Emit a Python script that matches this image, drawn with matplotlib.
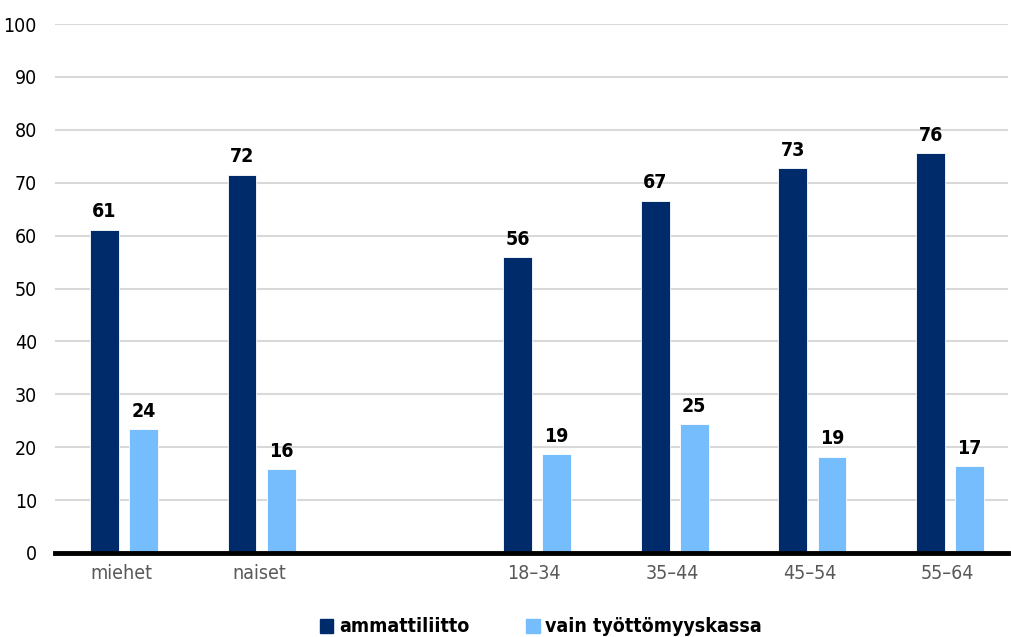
import numpy as np
import matplotlib.pyplot as plt
from matplotlib.patches import Patch
from matplotlib import font_manager as fm

# data
categories = ["miehet", "naiset", "", "18\u201334", "35\u201344", "45\u201354", "55\u201364"]
ammattiliitto = [61.1, 71.5, np.nan, 55.9, 66.6, 72.8, 75.6]
tk_kassa = [23.4, 15.9, np.nan, 18.7, 24.3, 18.2, 16.4]
ammattiliitto_lbl = ["61", "72", "", "56", "67", "73", "76"]
tk_kassa_lbl = ["24", "16", "", "19", "25", "19", "17"]
series_names = ["ammattiliitto", "vain ty\u00f6tt\u00f6myyskassa"]
yticks = list(range(0, 101, 10))

dark = "#002b6b"
light = "#75bdfd"

# look for some narrow font, the reference uses a condensed face
fam, stretch = "Roboto", "normal"
for f in fm.fontManager.ttflist:
    nm = f.name
    if ("Narrow" in nm or "Condensed" in nm or str(f.stretch) in ("condensed", "semi-condensed")) \
            and "Mono" not in nm and "Serif" not in nm:
        fam, stretch = nm, str(f.stretch)
        break
plt.rcParams["font.family"] = [fam, "DejaVu Sans"]
plt.rcParams["font.stretch"] = stretch
fs = 14 if fam != "Roboto" else 13

fig = plt.figure(figsize=(10.11, 6.37), dpi=100)
ax = fig.add_axes([55 / 1011, 84 / 637, 953 / 1011, 529 / 637])

x = np.arange(len(categories))
w = 0.21
off = 0.142
b1 = ax.bar(x - off, ammattiliitto, w, color=dark, edgecolor="white", linewidth=0.6, zorder=3)
b2 = ax.bar(x + off, tk_kassa, w, color=light, edgecolor="white", linewidth=0.6, zorder=3)

for bars, lbls in ((b1, ammattiliitto_lbl), (b2, tk_kassa_lbl)):
    for r, t in zip(bars, lbls):
        if t == "":
            continue
        ax.annotate(t, (r.get_x() + r.get_width() / 2, r.get_height()),
                    xytext=(0, 6), textcoords="offset points", ha="center", va="bottom",
                    fontsize=fs, fontweight="bold", color="black")

ax.set_ylim(0, 100)
ax.set_xlim(-0.5, 6.42)
ax.set_yticks(yticks)
ax.set_xticks(x - 0.02)
ax.set_xticklabels(categories)
ax.tick_params(axis="y", length=0, pad=13, labelsize=fs, labelcolor="black")
ax.tick_params(axis="x", length=0, pad=8, labelsize=fs, labelcolor="#595959")
ax.grid(axis="y", color="#d9d9d9", linewidth=1.5, zorder=0)
for s in ["top", "right", "left"]:
    ax.spines[s].set_visible(False)
ax.spines["bottom"].set_linewidth(3.5)
ax.spines["bottom"].set_color("black")
ax.spines["bottom"].set_zorder(4)

handles = [Patch(color=dark), Patch(color=light)]
leg = fig.legend(handles, series_names, loc="center", bbox_to_anchor=(541 / 1011, 1 - 627 / 637),
                 ncol=2, frameon=False, handlelength=0.7, handleheight=0.7,
                 handletextpad=0.3, columnspacing=2.9,
                 prop={"family": [fam, "DejaVu Sans"], "weight": "bold", "size": fs})

fig.savefig("out.png", dpi=100)
